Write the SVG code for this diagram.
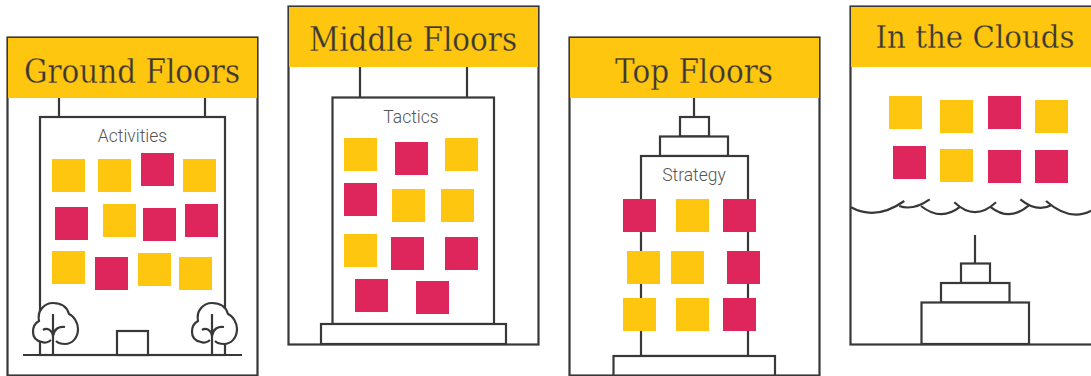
<svg xmlns="http://www.w3.org/2000/svg" width="1091" height="376" viewBox="0 0 1091 376">
<style>
.f{fill:#fff;stroke:#383838;stroke-width:2.200}
.l{fill:none;stroke:#383838;stroke-width:2.200}
.h{fill:#ffc60f}
.y{fill:#ffc60f}
.p{fill:#df265c}
.t{font-family:"DejaVu Serif","Liberation Serif",serif;font-size:33px;fill:#383838;stroke:#ffc60f;stroke-width:.3px;text-anchor:middle}
.s{font-family:Roboto,"Liberation Sans",sans-serif;font-weight:300;font-size:17.5px;fill:#555;text-anchor:middle}
</style>
<defs>
<rect id="sq" width="33" height="33"/>
<g id="tree">
<path fill="#fff" stroke="none" d="M-2 -15C-5 -12 -9 -12 -11 -13C-17 -14 -20 -18 -20 -23C-20 -28 -18 -32 -14 -34C-16 -44 -9 -52 0 -52C8 -52 14 -48 16 -41C21 -39 25 -32 25 -26C25 -17 19 -11 12 -11C8 -11 5 -12 3 -14L0 -9Z"/>
<path class="l" d="M-2 -15C-5 -12 -9 -12 -11 -13C-17 -14 -20 -18 -20 -23C-20 -28 -18 -32 -14 -34C-16 -44 -9 -52 0 -52C8 -52 14 -48 16 -41C21 -39 25 -32 25 -26C25 -17 19 -11 12 -11C8 -11 5 -12 3 -14"/>
<path class="l" d="M0 -41V0M0 -19C-1 -25 -6 -28 -10 -25M0 -19C1 -26 6 -29 12 -28"/>
</g>
</defs>
<g id="ground-floors">
<rect class="f" x="7.500" y="37.500" width="250" height="338"/>
<rect class="h" x="8" y="38" width="249" height="60"/>
<path class="l" d="M59 98V117M205 98V117M23 355H242"/>
<rect class="f" x="40" y="117" width="185" height="238"/>
<rect class="f" x="117" y="331" width="31" height="24"/>
<use href="#tree" x="53" y="355"/>
<use href="#tree" x="212" y="355"/>
<text class="t" x="132" y="83" textLength="216" lengthAdjust="spacingAndGlyphs">Ground Floors</text>
<text class="s" x="132.500" y="142">Activities</text>
<use href="#sq" class="y" x="52" y="159"/><use href="#sq" class="y" x="98" y="159"/><use href="#sq" class="p" x="141" y="153"/><use href="#sq" class="y" x="183" y="159"/>
<use href="#sq" class="p" x="55" y="207"/><use href="#sq" class="y" x="103" y="204"/><use href="#sq" class="p" x="143" y="208"/><use href="#sq" class="p" x="185" y="204"/>
<use href="#sq" class="y" x="52" y="251"/><use href="#sq" class="p" x="95" y="257"/><use href="#sq" class="y" x="138" y="253"/><use href="#sq" class="y" x="179" y="257"/>
</g>
<g id="middle-floors">
<rect class="f" x="288.500" y="6.500" width="250" height="338"/>
<rect class="h" x="289" y="7" width="249" height="60"/>
<path class="l" d="M360 67V97M467 67V97"/>
<rect class="f" x="332.500" y="97.500" width="161.500" height="226.500"/>
<rect class="f" x="321" y="324" width="185" height="20"/>
<text class="t" x="413" y="51" textLength="208" lengthAdjust="spacingAndGlyphs">Middle Floors</text>
<text class="s" x="411" y="123">Tactics</text>
<use href="#sq" class="y" x="344" y="138"/><use href="#sq" class="p" x="395" y="142"/><use href="#sq" class="y" x="445" y="138"/>
<use href="#sq" class="p" x="344" y="183"/><use href="#sq" class="y" x="392" y="189"/><use href="#sq" class="y" x="441" y="189"/>
<use href="#sq" class="y" x="344" y="234"/><use href="#sq" class="p" x="391" y="237"/><use href="#sq" class="p" x="445" y="237"/>
<use href="#sq" class="p" x="355" y="279"/><use href="#sq" class="p" x="416" y="281"/>
</g>
<g id="top-floors">
<rect class="f" x="569.500" y="37.500" width="250" height="338"/>
<rect class="h" x="570" y="38" width="249" height="60"/>
<path class="l" d="M694 98V117"/>
<rect class="f" x="680" y="117" width="29" height="19.500"/>
<rect class="f" x="660" y="136.500" width="68" height="19.500"/>
<rect class="f" x="641" y="156" width="107" height="200"/>
<rect class="f" x="613.500" y="356" width="161.500" height="19.500"/>
<text class="t" x="694" y="83" textLength="158" lengthAdjust="spacingAndGlyphs">Top Floors</text>
<text class="s" x="694" y="181">Strategy</text>
<use href="#sq" class="p" x="623" y="199"/><use href="#sq" class="y" x="676" y="199"/><use href="#sq" class="p" x="723" y="199"/>
<use href="#sq" class="y" x="627" y="251"/><use href="#sq" class="y" x="671" y="251"/><use href="#sq" class="p" x="727" y="251"/>
<use href="#sq" class="y" x="623" y="298"/><use href="#sq" class="y" x="676" y="298"/><use href="#sq" class="p" x="723" y="298"/>
</g>
<g id="in-the-clouds">
<rect class="f" x="850.500" y="6.500" width="250" height="338"/>
<rect class="h" x="851" y="7" width="240" height="60"/>
<path class="l" d="M975 235V263.500"/>
<rect class="f" x="961" y="263.500" width="29" height="19.500"/>
<rect class="f" x="941" y="283" width="68.500" height="19.500"/>
<rect class="f" x="921.500" y="302.500" width="107.500" height="41.500"/>
<text class="t" x="975" y="48" style="font-size:31px" textLength="199" lengthAdjust="spacingAndGlyphs">In the Clouds</text>
<path class="l" d="M851 207.300Q876 221 904.300 201M899.300 206Q913 211 929.700 199.300M921 206Q941 222 960.300 206.700M954.300 202.300Q975 222 996 202.300M991 207.300Q1010 222 1029.300 205M1020.300 199.300Q1037 213 1051.700 205M1046 201Q1070 222 1091 210.700"/>
<use href="#sq" class="y" x="889" y="96"/><use href="#sq" class="y" x="940" y="100"/><use href="#sq" class="p" x="988" y="96"/><use href="#sq" class="y" x="1035" y="100"/>
<use href="#sq" class="p" x="893" y="146"/><use href="#sq" class="y" x="940" y="149"/><use href="#sq" class="p" x="988" y="150"/><use href="#sq" class="p" x="1035" y="150"/>
</g>
</svg>
